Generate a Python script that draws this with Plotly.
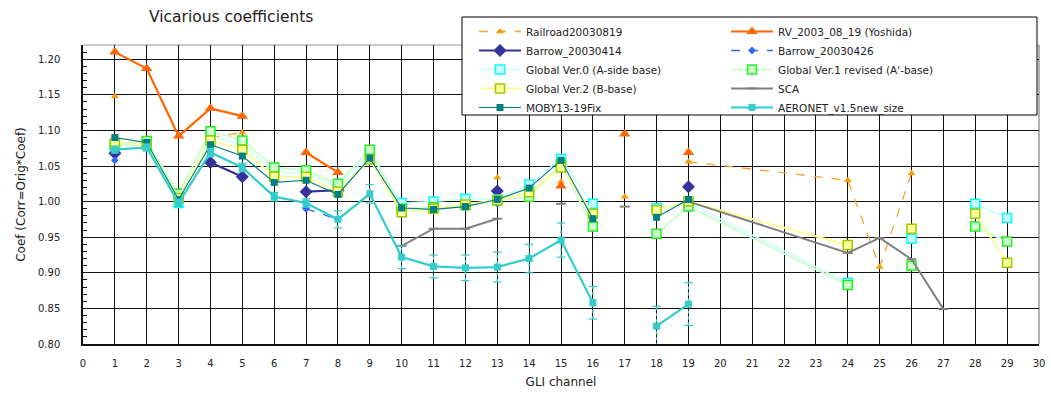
import plotly.graph_objects as go

# ---------------- data ----------------
channels = [1, 2, 3, 4, 5, 6, 7, 8, 9, 10, 11, 12, 13, 14, 15, 16, 17, 18, 19, 24, 25, 26, 27, 28, 29]

railroad = [1.148, None, None, 1.090, 1.097, None, None, None, None, None, None, None, 1.034, None, 1.028,
            None, 1.007, None, 1.056, 1.030, 0.908, 1.040, None, None, None]
rv_yoshida = [1.210, 1.187, 1.092, 1.131, 1.120, None, 1.069, 1.041, None, None, None, None, None, None, 1.022,
              None, 1.095, None, 1.069, None, None, None, None, None, None]
barrow_0414 = [1.068, None, None, 1.055, 1.035, None, 1.014, 1.016, None, None, None, None, 1.015, None, None,
               None, None, None, 1.021, None, None, None, None, None, None]
barrow_0426 = [1.058, None, None, None, None, None, 0.990, 0.975, None, None, None, None, 0.997, None, None,
               None, None, None, None, None, None, None, None, None, None]
global_v0 = [1.078, 1.080, 0.998, 1.093, 1.080, 1.041, 1.040, 1.020, 1.068, 0.998, 1.000, 1.004, 1.003, 1.024, 1.060,
             0.997, None, 0.991, 0.998, 0.886, None, 0.948, None, 0.997, 0.977]
global_v1 = [1.080, 1.085, 1.011, 1.099, 1.086, 1.048, 1.044, 1.025, 1.073, 0.990, 0.992, 0.995, 1.002, 1.007, 1.052,
             0.965, None, 0.955, 0.993, 0.883, None, 0.910, None, 0.965, 0.944]
global_v2 = [1.082, 1.080, 1.005, 1.086, 1.073, 1.035, 1.035, 1.014, 1.059, 0.985, 0.990, 0.996, 1.002, 1.013, 1.048,
             0.983, None, 0.988, 1.000, 0.939, None, 0.962, None, 0.983, 0.914]
sca = [None, None, None, None, None, None, None, None, None, 0.938, 0.962, 0.962, 0.976, None, 0.997,
       None, 0.993, None, 1.000, 0.928, 0.949, 0.919, 0.849, None, None]
moby = [1.090, 1.083, 1.003, 1.080, 1.064, 1.027, 1.030, 1.010, 1.061, 0.991, 0.989, 0.993, 1.003, 1.019, 1.058,
        0.976, None, 0.978, 1.003, None, None, None, None, None, None]
aeronet = [1.073, 1.076, 0.998, 1.069, 1.048, 1.007, 0.998, 0.975, 1.011, 0.922, 0.909, 0.907, 0.908, 0.920, 0.946,
           0.858, None, 0.825, 0.856, None, None, None, None, None, None]
aeronet_err = [0.005, 0.005, 0.005, 0.006, 0.006, 0.006, 0.006, 0.012, 0.013, 0.016, 0.016, 0.018, 0.021, 0.020, 0.024,
               0.023, None, 0.028, 0.030, None, None, None, None, None, None]

x_ticks = list(range(0, 31))
y_ticks = [0.80, 0.85, 0.90, 0.95, 1.00, 1.05, 1.10, 1.15, 1.20]

FONT = "DejaVu Sans"
TXT = "#222222"

fig = go.Figure()

def add(name, y, color, width, dash, symbol, msize, mcolor, mline, mlw, legend):
    fig.add_trace(go.Scatter(
        x=channels, y=y, name=name, mode="lines+markers",
        line=dict(color=color, width=width, dash=dash),
        marker=dict(symbol=symbol, size=msize, color=mcolor, line=dict(color=mline, width=mlw)),
        connectgaps=False, legend=legend))

add("Railroad20030819", railroad, "#FFA033", 1.3, "dash", "triangle-up", 7, "#FF9900", "#FF9900", 0, "legend")
add("RV_2003_08_19 (Yoshida)", rv_yoshida, "#FF6600", 2.2, "solid", "triangle-up", 10, "#FF6600", "#FF6600", 0, "legend2")
add("Barrow_20030414", barrow_0414, "#333399", 2.2, "solid", "diamond", 10, "#333399", "#333399", 0, "legend")
add("Barrow_20030426", barrow_0426, "#3366FF", 1.3, "dash", "diamond", 6, "#3366FF", "#3366FF", 0, "legend2")
add("Global Ver.0 (A-side base)", global_v0, "#CCFFFF", 1.5, "solid", "square", 9, "#CCFFFF", "#00FFFF", 1.5, "legend")
add("Global Ver.1 revised (A'-base)", global_v1, "#CCFFCC", 2, "solid", "square", 9, "#CCFFCC", "#22EE22", 1.5, "legend2")
add("Global Ver.2 (B-base)", global_v2, "#FFFF99", 2, "solid", "square", 9, "#FFFF99", "#99CC00", 1.5, "legend")

fig.add_trace(go.Scatter(
    x=channels, y=sca, name="SCA", mode="lines+markers",
    line=dict(color="#808080", width=2), marker=dict(symbol="line-ew", size=7, line=dict(color="#808080", width=2)),
    connectgaps=False, legend="legend2"))

add("MOBY13-19Fix", moby, "#008080", 1.2, "solid", "square", 7, "#008080", "#008080", 0, "legend")

# AERONET error bars (dashed, as in the reference)
ex, ey = [], []
for c, v, e in zip(channels, aeronet, aeronet_err):
    if v is None or e is None:
        continue
    ex += [c, c, None]
    ey += [v - e, v + e, None]
fig.add_trace(go.Scatter(
    x=ex, y=ey, mode="lines+markers", showlegend=False, hoverinfo="skip",
    line=dict(color="#33CCCC", width=1.2, dash="dot"),
    marker=dict(symbol="line-ew", size=6, line=dict(color="#33CCCC", width=1.2))))

add("AERONET_v1.5new_size", aeronet, "#33CCCC", 2.2, "solid", "square", 7, "#33CCCC", "#33CCCC", 0, "legend2")

# plot area geometry (pixels) used for paper-coordinate conversion
L, R, T, B = 83, 1039, 45, 344
W, H = R - L, B - T
def px_x(p):
    return (p - L) / W
def px_y(p):
    return (B - p) / H

legend_common = dict(
    bgcolor="rgba(0,0,0,0)", borderwidth=0, orientation="v",
    font=dict(family=FONT, size=10.5, color=TXT),
    xanchor="left", yanchor="top", tracegroupgap=0, itemwidth=42,
)

fig.update_layout(
    width=1051, height=394,
    margin=dict(l=L, r=1051 - R, t=T, b=394 - B, autoexpand=False),
    paper_bgcolor="white", plot_bgcolor="white",
    font=dict(family=FONT, color=TXT),
    title=dict(text="Vicarious coefficients", x=149 / 1051, xanchor="left", xref="container",
               y=1 - 17 / 394, yanchor="middle", yref="container",
               font=dict(family=FONT, size=15.5, color=TXT)),
    showlegend=True,
    legend=dict(x=px_x(474), y=px_y(17), **legend_common),
    legend2=dict(x=px_x(726), y=px_y(17), **legend_common),
    shapes=[dict(type="rect", xref="paper", yref="paper",
                 x0=px_x(462), x1=px_x(1037), y0=px_y(115), y1=px_y(17),
                 fillcolor="white", line=dict(color="black", width=1), layer="above")],
)

fig.update_xaxes(
    range=[0, 30], tickvals=x_ticks, ticks="", showgrid=True, gridcolor="#111111", gridwidth=1,
    showline=True, linecolor="#111111", linewidth=1.5, mirror=False, zeroline=False, automargin=False,
    tickfont=dict(family=FONT, size=10, color=TXT), ticklabelstandoff=9,
    title=dict(text="GLI channel", font=dict(family=FONT, size=12, color=TXT), standoff=10),
)
fig.update_yaxes(
    range=[0.80, 1.22], tickvals=y_ticks, tickformat=".2f", ticks="inside", ticklen=6, tickcolor="#111111",
    minor=dict(dtick=0.01, tick0=0.8, ticks="inside", ticklen=4, tickcolor="#111111", showgrid=False),
    showgrid=True, gridcolor="#111111", gridwidth=1, zeroline=False, automargin=False,
    showline=True, linecolor="#111111", linewidth=1.5,
    tickfont=dict(family=FONT, size=10, color=TXT), ticklabelstandoff=19,
    title=dict(text="Coef (Corr=Orig*Coef)", font=dict(family=FONT, size=12, color=TXT), standoff=10),
)

# top and right frame
fig.add_shape(type="line", xref="paper", yref="paper", x0=0, x1=1, y0=1, y1=1,
              line=dict(color="#999999", width=1), layer="below")
fig.add_shape(type="line", xref="paper", yref="paper", x0=1, x1=1, y0=0, y1=1,
              line=dict(color="#666666", width=1), layer="below")

fig.write_html("out.html", config={"displayModeBar": False},
               post_script="document.body.style.margin='0px';")
